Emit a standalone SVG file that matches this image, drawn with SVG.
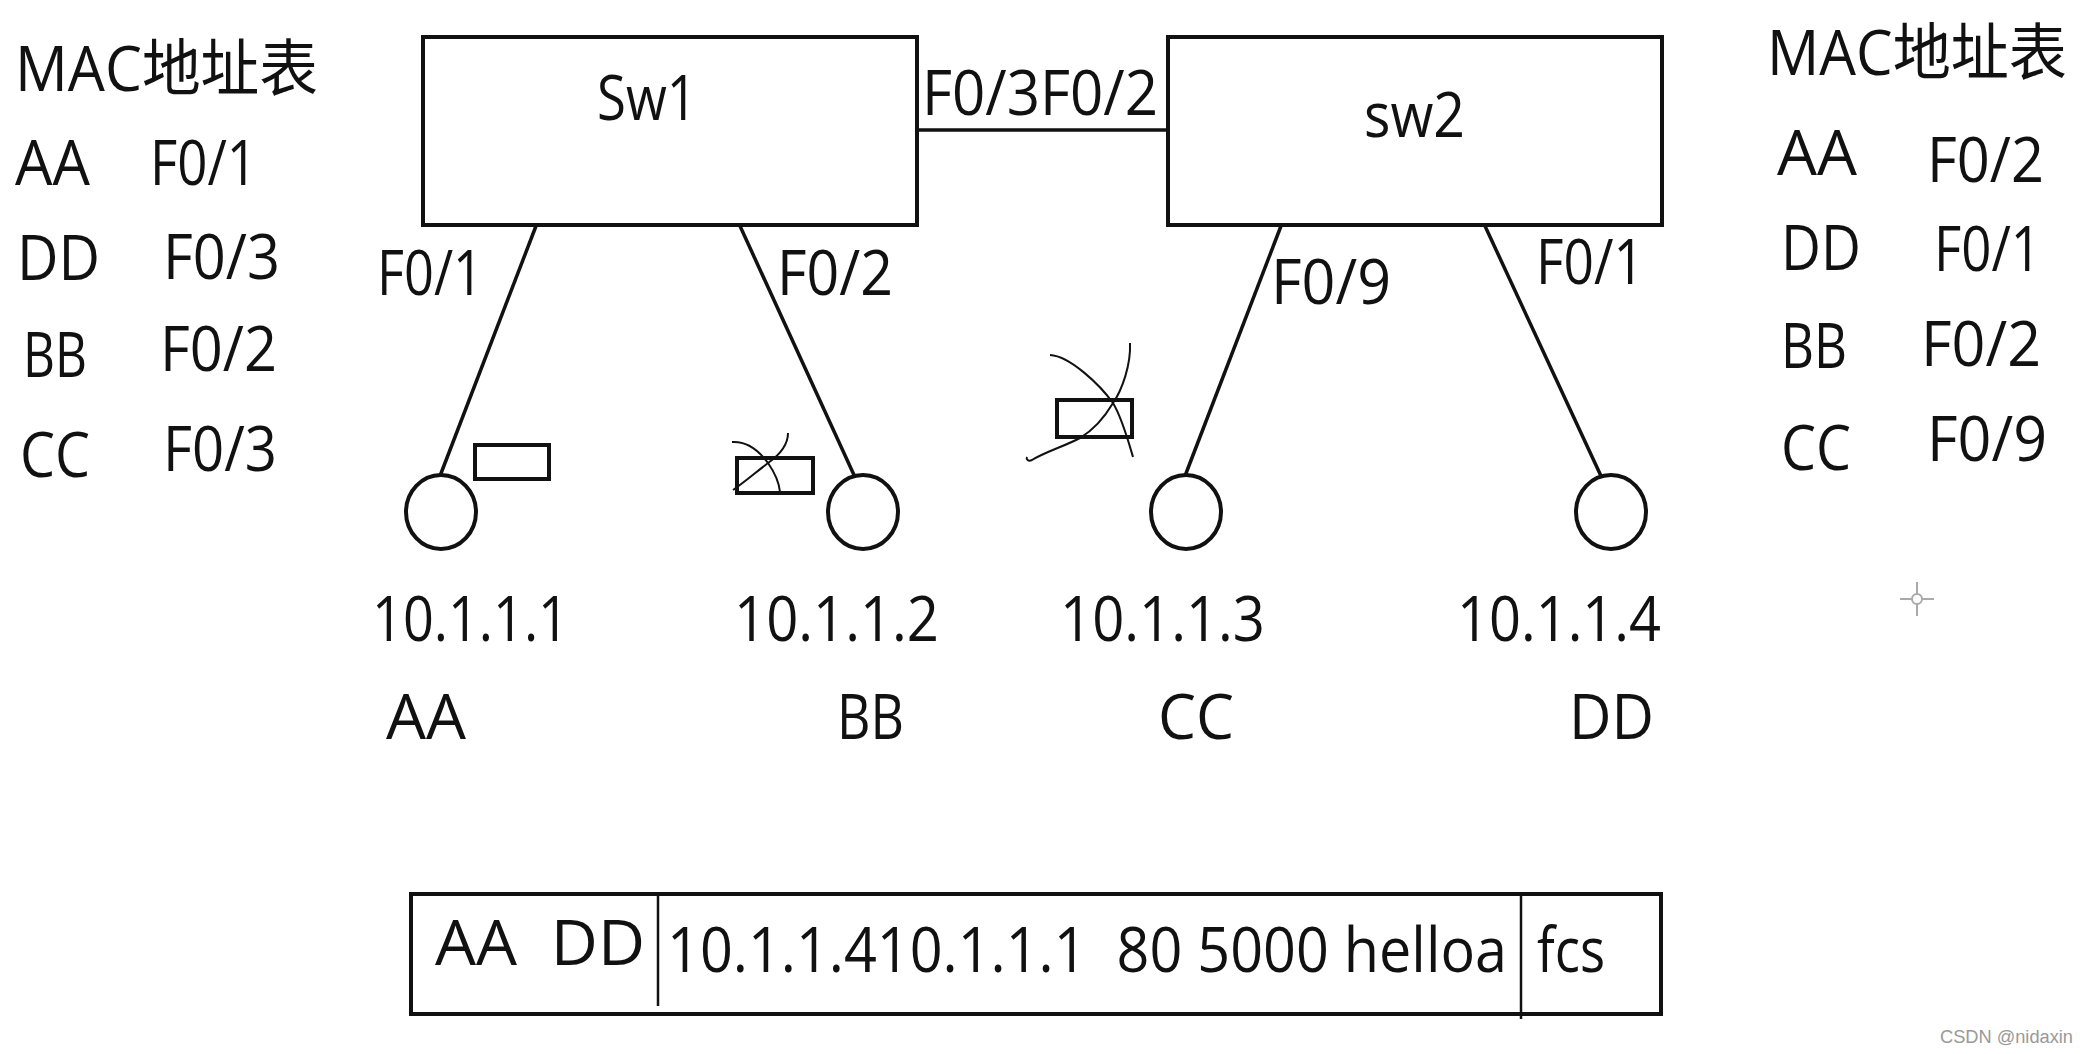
<svg xmlns="http://www.w3.org/2000/svg" width="2088" height="1054" viewBox="0 0 2088 1054">
<style>
text{font-family:"Open Sans","Noto Sans CJK SC",sans-serif;font-size:62px;fill:#111;white-space:pre}
.box{fill:#fff;stroke:#111;stroke-width:4}
.link{stroke:#111;stroke-width:3.5;fill:none}
.host{fill:#fff;stroke:#111;stroke-width:4}
.pkt{fill:none;stroke:#111;stroke-width:4}
.scr{fill:none;stroke:#111;stroke-width:2}
.wm{font-family:"Liberation Sans",sans-serif;font-size:18px;fill:#999}
</style>
<rect width="2088" height="1054" fill="#fff"/>

<g id="connectors">
<line class="link" x1="916" y1="130" x2="1168" y2="130"/>
<line class="link" x1="536" y1="226" x2="440" y2="476"/>
<line class="link" x1="740" y1="226" x2="854" y2="475"/>
<line class="link" x1="1281" y1="226" x2="1185" y2="476"/>
<line class="link" x1="1485" y1="226" x2="1601" y2="476"/>
</g>

<g id="sw1">
<rect class="box" x="423" y="37" width="494" height="188"/>
<text x="597" y="120" textLength="100" lengthAdjust="spacingAndGlyphs">Sw1</text>
<text x="922" y="115" textLength="118" lengthAdjust="spacingAndGlyphs">F0/3</text>
<text x="377" y="295" textLength="106" lengthAdjust="spacingAndGlyphs">F0/1</text>
<text x="777" y="295" textLength="116" lengthAdjust="spacingAndGlyphs">F0/2</text>
</g>

<g id="sw2">
<rect class="box" x="1168" y="37" width="494" height="188"/>
<text x="1364" y="137" textLength="101" lengthAdjust="spacingAndGlyphs">sw2</text>
<text x="1040" y="115" textLength="118" lengthAdjust="spacingAndGlyphs">F0/2</text>
<text x="1271" y="304" textLength="120" lengthAdjust="spacingAndGlyphs">F0/9</text>
<text x="1536" y="284" textLength="108" lengthAdjust="spacingAndGlyphs">F0/1</text>
</g>

<g id="host-aa">
<ellipse class="host" cx="441" cy="512" rx="35" ry="37"/>
<rect class="pkt" x="475" y="445" width="74" height="34"/>
<text x="372" y="641" textLength="197" lengthAdjust="spacingAndGlyphs">10.1.1.1</text>
<text x="386" y="739" textLength="80" lengthAdjust="spacingAndGlyphs">AA</text>
</g>

<g id="host-bb">
<ellipse class="host" cx="863" cy="512" rx="35" ry="37"/>
<rect class="pkt" x="737" y="458" width="76" height="35"/>
<path class="scr" d="M732,442 C748,441 760,452 768,463 C775,473 779,482 780,492"/>
<path class="scr" d="M788,433 C788,446 778,456 768,463 C755,473 742,484 733,490"/>
<text x="734" y="641" textLength="205" lengthAdjust="spacingAndGlyphs">10.1.1.2</text>
<text x="837" y="739" textLength="67" lengthAdjust="spacingAndGlyphs">BB</text>
</g>

<g id="host-cc">
<ellipse class="host" cx="1186" cy="512" rx="35" ry="37"/>
<rect class="pkt" x="1057" y="400" width="75" height="37"/>
<path class="scr" d="M1050,355 C1070,356 1100,385 1113,403 C1122,418 1128,440 1133,457"/>
<path class="scr" d="M1130,343 C1131,365 1122,390 1113,403 C1103,420 1090,432 1080,438 C1065,446 1045,452 1032,460 C1028,462 1026,459 1027,457"/>
<text x="1060" y="641" textLength="205" lengthAdjust="spacingAndGlyphs">10.1.1.3</text>
<text x="1158" y="739" textLength="76" lengthAdjust="spacingAndGlyphs">CC</text>
</g>

<g id="host-dd">
<ellipse class="host" cx="1611" cy="512" rx="35" ry="37"/>
<text x="1457" y="641" textLength="204" lengthAdjust="spacingAndGlyphs">10.1.1.4</text>
<text x="1569" y="739" textLength="85" lengthAdjust="spacingAndGlyphs">DD</text>
</g>

<g id="mac-table-left">
<text x="15" y="91" textLength="303" lengthAdjust="spacingAndGlyphs">MAC地址表</text>
<text x="15" y="185" textLength="75" lengthAdjust="spacingAndGlyphs">AA</text>
<text x="150" y="185" textLength="107" lengthAdjust="spacingAndGlyphs">F0/1</text>
<text x="17" y="280" textLength="83" lengthAdjust="spacingAndGlyphs">DD</text>
<text x="163" y="279" textLength="117" lengthAdjust="spacingAndGlyphs">F0/3</text>
<text x="23" y="377" textLength="64" lengthAdjust="spacingAndGlyphs">BB</text>
<text x="160" y="371" textLength="117" lengthAdjust="spacingAndGlyphs">F0/2</text>
<text x="20" y="477" textLength="70" lengthAdjust="spacingAndGlyphs">CC</text>
<text x="163" y="471" textLength="114" lengthAdjust="spacingAndGlyphs">F0/3</text>
</g>

<g id="mac-table-right">
<text x="1767" y="75" textLength="300" lengthAdjust="spacingAndGlyphs">MAC地址表</text>
<text x="1777" y="175" textLength="80" lengthAdjust="spacingAndGlyphs">AA</text>
<text x="1927" y="182" textLength="117" lengthAdjust="spacingAndGlyphs">F0/2</text>
<text x="1781" y="270" textLength="80" lengthAdjust="spacingAndGlyphs">DD</text>
<text x="1934" y="271" textLength="107" lengthAdjust="spacingAndGlyphs">F0/1</text>
<text x="1781" y="368" textLength="66" lengthAdjust="spacingAndGlyphs">BB</text>
<text x="1921" y="366" textLength="120" lengthAdjust="spacingAndGlyphs">F0/2</text>
<text x="1781" y="470" textLength="70" lengthAdjust="spacingAndGlyphs">CC</text>
<text x="1927" y="461" textLength="120" lengthAdjust="spacingAndGlyphs">F0/9</text>
</g>

<g id="frame">
<rect x="411" y="894" width="1250" height="120" fill="none" stroke="#111" stroke-width="4"/>
<line x1="658" y1="894" x2="658" y2="1006" stroke="#111" stroke-width="2.5"/>
<line x1="1521" y1="894" x2="1521" y2="1019" stroke="#111" stroke-width="2.5"/>
<text x="435" y="965" textLength="210" lengthAdjust="spacingAndGlyphs">AA  DD</text>
<text x="667" y="972" textLength="840" lengthAdjust="spacingAndGlyphs">10.1.1.410.1.1.1  80 5000 helloa</text>
<text x="1537" y="972" textLength="68" lengthAdjust="spacingAndGlyphs">fcs</text>
</g>

<g id="cursor" stroke="#aaa" stroke-width="2" fill="none">
<circle cx="1917" cy="599" r="5"/>
<line x1="1917" y1="582" x2="1917" y2="594"/>
<line x1="1917" y1="604" x2="1917" y2="616"/>
<line x1="1900" y1="599" x2="1912" y2="599"/>
<line x1="1922" y1="599" x2="1934" y2="599"/>
</g>

<text class="wm" x="1940" y="1043" textLength="133" lengthAdjust="spacingAndGlyphs">CSDN @nidaxin</text>
</svg>
